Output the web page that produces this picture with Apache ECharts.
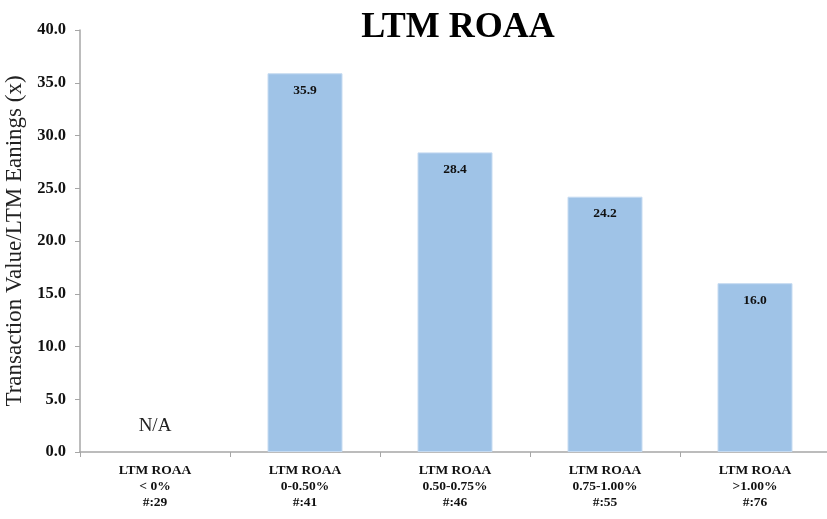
<!DOCTYPE html>
<html>
<head>
<meta charset="utf-8">
<script src="https://cdn.jsdelivr.net/npm/echarts@6/dist/echarts.min.js"></script>
<style>html,body{margin:0;padding:0;background:#fff}#c{width:827px;height:519px}</style>
</head>
<body>
<div id="c"></div>
<script>
const categories = ["LTM ROAA\n< 0%\n#:29", "LTM ROAA\n0-0.50%\n#:41", "LTM ROAA\n0.50-0.75%\n#:46", "LTM ROAA\n0.75-1.00%\n#:55", "LTM ROAA\n>1.00%\n#:76"];
const values = [null, 35.9, 28.4, 24.2, 16.0];
const yTicks = [0, 5, 10, 15, 20, 25, 30, 35, 40];
const naLabel = "N/A";

const font = "'Liberation Serif', 'DejaVu Serif', serif";
const chart = echarts.init(document.getElementById('c'));
const seriesData = values.map(v => v === null
  ? { value: 0, itemStyle: { color: 'transparent', borderWidth: 0 },
      label: { show: true, position: 'top', distance: 16, formatter: naLabel, fontWeight: 'normal', fontSize: 19, color: '#222' } }
  : v);
chart.setOption({
  animation: false,
  title: { text: 'LTM ROAA', left: 453, textAlign: 'center', top: 5, textStyle: { fontFamily: font, fontWeight: 'bold', fontSize: 36, color: '#000' } },
  grid: { left: 80, top: 30, width: 750, height: 422, containLabel: false, outerBoundsMode: 'none' },
  xAxis: {
    type: 'category', data: categories,
    axisLine: { lineStyle: { color: '#a6a6a6', width: 1.5 } },
    axisTick: { show: true, alignWithLabel: false, length: 5, lineStyle: { color: '#a6a6a6' } },
    axisLabel: { fontFamily: font, fontWeight: 'bold', fontSize: 13.5, color: '#111', lineHeight: 16, margin: 11, interval: 0 }
  },
  yAxis: {
    type: 'value', min: 0, max: 40, interval: 5,
    name: 'Transaction Value/LTM Eanings (x)', nameLocation: 'middle', nameGap: 53,
    nameTextStyle: { fontFamily: font, fontSize: 23, color: '#222' },
    axisLine: { show: true, lineStyle: { color: '#a6a6a6', width: 1.5 } },
    axisTick: { show: true, length: 5, lineStyle: { color: '#a6a6a6' } },
    splitLine: { show: false },
    axisLabel: { fontFamily: font, fontWeight: 'bold', fontSize: 16.5, color: '#111', margin: 14, formatter: v => yTicks.includes(v) ? v.toFixed(1) : '' }
  },
  series: [{
    type: 'bar', data: seriesData, barWidth: '50%',
    itemStyle: { color: '#9fc3e7', borderColor: '#c6dbf1', borderWidth: 1 },
    label: { show: true, position: 'insideTop', distance: 10, fontFamily: font, fontWeight: 'bold', fontSize: 13.5, color: '#111', formatter: p => p.value.toFixed(1) }
  }]
});
</script>
</body>
</html>
